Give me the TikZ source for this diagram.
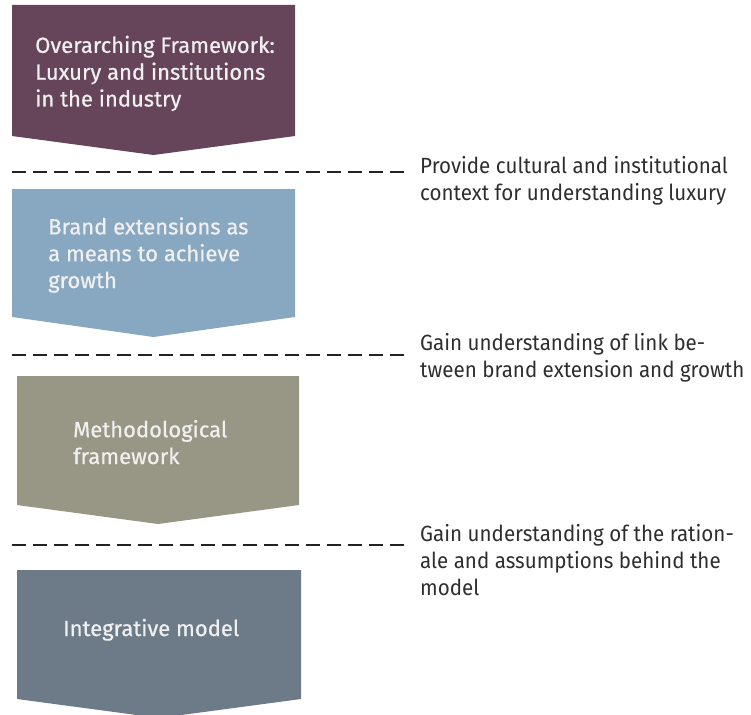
\documentclass[tikz,border=0pt]{standalone}
\usepackage{fontspec}
\setmainfont{Fira Sans}[FakeStretch=0.935]
\newfontfamily\blockfont{Fira Sans}[FakeBold=0.6]
\definecolor{plum}{HTML}{664459}
\definecolor{steelblue}{HTML}{88A8C2}
\definecolor{olivegray}{HTML}{989684}
\definecolor{slate}{HTML}{6C7B87}
\definecolor{ink}{HTML}{2E2E2E}
\definecolor{rule}{HTML}{222222}
\begin{document}
\begin{tikzpicture}[x=1pt,y=-1pt,
  boxtext/.style={anchor=base west,inner sep=0pt,align=left,text=white!94!black,
    font=\blockfont\fontsize{22}{26.8}\selectfont},
  notetext/.style={anchor=base west,inner sep=0pt,align=left,text=ink,
    font=\fontsize{22}{26.8}\selectfont},
  divider/.style={rule,line width=2.2pt,dash pattern=on 14pt off 7pt}]
\useasboundingbox (0,0) rectangle (751,714);

% chevron blocks
\fill[plum]       (12,5)   -- (295,5)   -- (295,136) -- (153.5,155) -- (12,136) -- cycle;
\fill[steelblue]  (12,189) -- (295,189) -- (295,317) -- (153.5,337) -- (12,317) -- cycle;
\fill[olivegray]  (17,376) -- (299,376) -- (299,505) -- (158,524)   -- (17,505) -- cycle;
\fill[slate]      (17,570) -- (301,570) -- (301,699) -- (159,718)   -- (17,699) -- cycle;

% block labels (anchored on the baseline of their last line)
\node[boxtext] (frame)  at (35,106.5) {Overarching Framework:\\Luxury and institutions\\in the industry};
\node[boxtext] (brand)  at (48,288)   {Brand extensions as\\a means to achieve\\growth};
\node[boxtext] (method) at (73,464)   {Methodological\\framework};
\node[boxtext] (model)  at (63,636)   {Integrative model};

% separators
\draw[divider] (12,172) -- (404,172);
\draw[divider] (12,355) -- (404,355);
\draw[divider] (12,545) -- (404,545);

% notes
\node[notetext] (note1) at (420,200.5) {Provide cultural and institutional\\context for understanding luxury};
\node[notetext] (note2) at (420,377.5) {Gain understanding of link be-\\tween brand extension and growth};
\node[notetext] (note3) at (420,595)   {Gain understanding of the ration-\\ale and assumptions behind the\\model};
\end{tikzpicture}
\end{document}
